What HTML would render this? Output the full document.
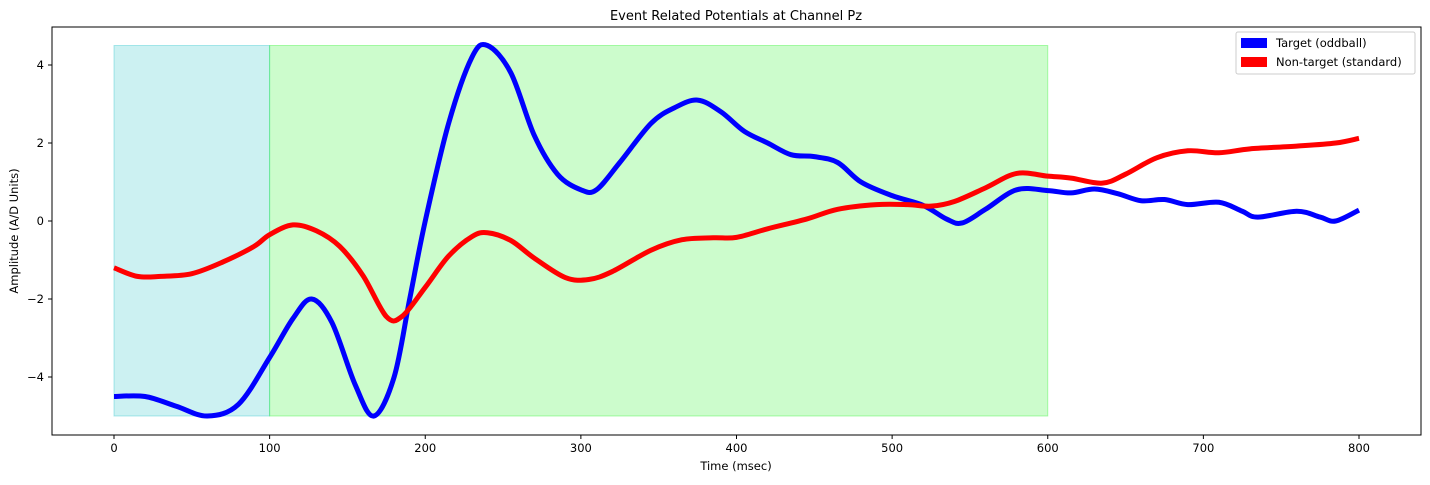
<!DOCTYPE html>
<html><head><meta charset="utf-8"><style>
html,body{margin:0;padding:0;background:#fff;width:1430px;height:485px;overflow:hidden}
svg text{font-family:"DejaVu Sans","Liberation Sans",sans-serif;fill:#000}
</style></head><body>
<svg id="chart" width="1430" height="485">
<text x="736" y="20" font-size="13" text-anchor="middle">Event Related Potentials at Channel Pz</text>
<g id="shades"></g>
<g id="lines"></g>
<rect x="52" y="27" width="1369" height="408" fill="none" stroke="#000" stroke-width="1"/>
<g id="ticks"></g>
<text x="736" y="470" font-size="11.5" text-anchor="middle">Time (msec)</text>
<text transform="translate(18,231) rotate(-90)" font-size="11.5" text-anchor="middle">Amplitude (A/D Units)</text>
<g>
<rect x="1236" y="32" width="179" height="42" rx="2" fill="#fff" stroke="#ccc"/>
<rect x="1241" y="38" width="26" height="10" fill="#0000ff"/>
<text x="1276" y="47" font-size="11.5">Target (oddball)</text>
<rect x="1241" y="57" width="26" height="10" fill="#ff0000"/>
<text x="1276" y="66" font-size="11.5">Non-target (standard)</text>
</g>
</svg>
<script>
const xTicks=[0,100,200,300,400,500,600,700,800];
const yTicks=[-4,-2,0,2,4];
const targetT=[0,20,40,60,80,100,115,127,140,155,167,180,190,200,215,230,240,255,270,285,300,310,325,345,360,375,390,405,420,435,450,465,480,500,520,535,545,560,580,600,615,630,645,660,675,690,710,725,735,760,775,785,800];
const targetV=[-4.5,-4.5,-4.75,-5.0,-4.7,-3.5,-2.5,-2.0,-2.6,-4.2,-5.0,-4.0,-2.0,0.0,2.5,4.2,4.5,3.8,2.2,1.2,0.8,0.8,1.5,2.5,2.9,3.1,2.8,2.3,2.0,1.7,1.65,1.5,1.0,0.65,0.4,0.05,-0.05,0.3,0.8,0.78,0.72,0.82,0.7,0.52,0.55,0.42,0.48,0.25,0.1,0.25,0.1,0.0,0.28];
const nonT=[0,15,30,50,70,90,100,115,130,145,160,175,185,200,215,230,240,255,270,290,305,320,345,365,385,400,420,445,465,490,510,525,540,560,580,600,615,635,650,670,690,710,730,760,785,800];
const nonV=[-1.2,-1.42,-1.42,-1.35,-1.05,-0.65,-0.35,-0.1,-0.25,-0.65,-1.4,-2.45,-2.45,-1.7,-0.9,-0.4,-0.3,-0.5,-0.95,-1.45,-1.5,-1.3,-0.75,-0.48,-0.43,-0.42,-0.2,0.05,0.3,0.42,0.42,0.38,0.5,0.85,1.22,1.15,1.1,0.97,1.2,1.62,1.8,1.75,1.85,1.92,2.0,2.12];
const regions=[[0,100,'#00b8c0',0.2,'baseline-region'],[100,600,'#00f000',0.2,'response-region']];
const regionTop=4.5, regionBottom=-5;
const NS='http://www.w3.org/2000/svg';
const X=t=>114+t*(1359-114)/800;
const Y=v=>221-v*39;
function mk(tag,attrs,parent){const e=document.createElementNS(NS,tag);for(const k in attrs)e.setAttribute(k,attrs[k]);parent.appendChild(e);return e;}
const shades=document.getElementById('shades');
regions.forEach(r=>{
 const e=mk('rect',{x:X(r[0]),y:Y(regionTop),width:X(r[1])-X(r[0]),height:Y(regionBottom)-Y(regionTop),fill:r[2],'fill-opacity':r[3],stroke:r[2],'stroke-opacity':0.3},shades);
 
 
});
function path(ts,vs){
 const p=ts.map((t,i)=>[X(t),Y(vs[i])]);
 let d='M'+p[0][0]+','+p[0][1];
 for(let i=0;i<p.length-1;i++){
  const p0=p[Math.max(0,i-1)],p1=p[i],p2=p[i+1],p3=p[Math.min(p.length-1,i+2)];
  const c1=[p1[0]+(p2[0]-p0[0])/6,p1[1]+(p2[1]-p0[1])/6];
  const c2=[p2[0]-(p3[0]-p1[0])/6,p2[1]-(p3[1]-p1[1])/6];
  d+=' C'+c1+' '+c2+' '+p2;
 }
 return d;
}
const lines=document.getElementById('lines');
const lt=mk('path',{d:path(targetT,targetV),fill:'none',stroke:'#0000ff','stroke-width':5,'stroke-linejoin':'round'},lines);


const ln=mk('path',{d:path(nonT,nonV),fill:'none',stroke:'#ff0000','stroke-width':5,'stroke-linejoin':'round'},lines);


const ticks=document.getElementById('ticks');
xTicks.forEach(t=>{
 mk('line',{x1:X(t),x2:X(t),y1:435,y2:439,stroke:'#000'},ticks);
 const e=mk('text',{x:X(t),y:452,'font-size':11.5,'text-anchor':'middle'},ticks);
 e.textContent=t;
 
 
});
yTicks.forEach(v=>{
 mk('line',{x1:48,x2:52,y1:Y(v),y2:Y(v),stroke:'#000'},ticks);
 const e=mk('text',{x:44,y:Y(v)+4,'font-size':11.5,'text-anchor':'end'},ticks);
 e.textContent=v<0?'\u2212'+(-v):v;
 
 
});
</script>
</body></html>
